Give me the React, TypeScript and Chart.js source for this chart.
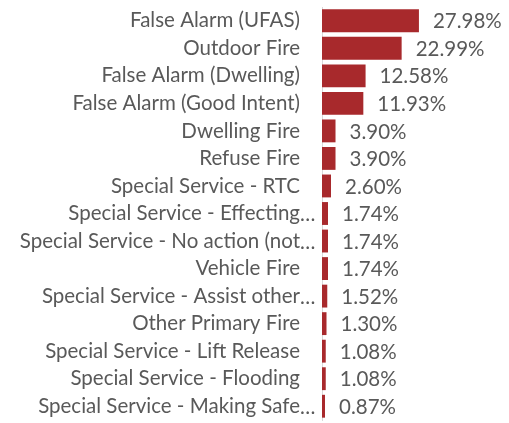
import React, { useEffect, useRef } from "react";
import { Chart, registerables } from "chart.js";

Chart.register(...registerables);

const categories = [
  "False Alarm (UFAS)",
  "Outdoor Fire",
  "False Alarm (Dwelling)",
  "False Alarm (Good Intent)",
  "Dwelling Fire",
  "Refuse Fire",
  "Special Service - RTC",
  "Special Service - Effecting…",
  "Special Service - No action (not…",
  "Vehicle Fire",
  "Special Service - Assist other…",
  "Other Primary Fire",
  "Special Service - Lift Release",
  "Special Service - Flooding",
  "Special Service - Making Safe…",
];

const percentages = [27.98, 22.99, 12.58, 11.93, 3.9, 3.9, 2.6, 1.74, 1.74, 1.74, 1.52, 1.3, 1.08, 1.08, 0.87];

const FONT = "Lato, 'Open Sans', sans-serif";
const FONT_SIZE = 20.5;
const TEXT = "#595959";
const BAR = "#A8292C";
const ELLIPSIS = "…";

const valueLabels = {
  id: "valueLabels",
  afterDatasetsDraw(chart: any) {
    const ctx = chart.ctx;
    const meta = chart.getDatasetMeta(0);
    const yScale = chart.scales.y;
    ctx.save();
    ctx.font = `${FONT_SIZE}px ${FONT}`;
    ctx.fillStyle = TEXT;
    ctx.textBaseline = "middle";
    ctx.textAlign = "left";
    meta.data.forEach((bar: any, i: number) => {
      ctx.fillText(percentages[i].toFixed(2) + "%", bar.x + 14, bar.y + 1);
    });
    // hanging ellipsis for truncated category names
    categories.forEach((c, i) => {
      if (c.endsWith(ELLIPSIS)) {
        ctx.fillText(ELLIPSIS, yScale.right - 22, yScale.getPixelForValue(i) + 1);
      }
    });
    ctx.restore();
  },
};

export default function App() {
  const ref = useRef<HTMLCanvasElement>(null);
  useEffect(() => {
    document.body.style.margin = "0";
    const chart = new Chart(ref.current!, {
      type: "bar",
      data: {
        labels: categories,
        datasets: [
          {
            data: percentages,
            backgroundColor: BAR,
            borderWidth: 0,
            categoryPercentage: 1,
            barPercentage: 0.83,
          },
        ],
      },
      options: {
        indexAxis: "y",
        animation: false,
        responsive: true,
        maintainAspectRatio: false,
        layout: { padding: { top: 7, bottom: 3, left: 0, right: 90 } },
        plugins: { legend: { display: false }, tooltip: { enabled: false } },
        scales: {
          x: {
            display: false,
            min: 0,
            max: 28,
          },
          y: {
            afterFit(scale: any) {
              scale.width = 322;
              scale.paddingTop = 0;
              scale.paddingBottom = 0;
            },
            grid: { display: false, drawTicks: false },
            border: { display: true, color: "#D9D9D9", width: 1 },
            ticks: {
              color: TEXT,
              padding: 22,
              autoSkip: false,
              font: { family: FONT, size: FONT_SIZE },
              callback(value: any) {
                const s = categories[value as number];
                return s.endsWith(ELLIPSIS) ? s.slice(0, -1) : s;
              },
            },
          },
        },
      },
      plugins: [valueLabels],
    });
    return () => chart.destroy();
  }, []);
  return (
    <div style={{ position: "relative", width: 509, height: 423 }}>
      <canvas ref={ref} />
    </div>
  );
}
